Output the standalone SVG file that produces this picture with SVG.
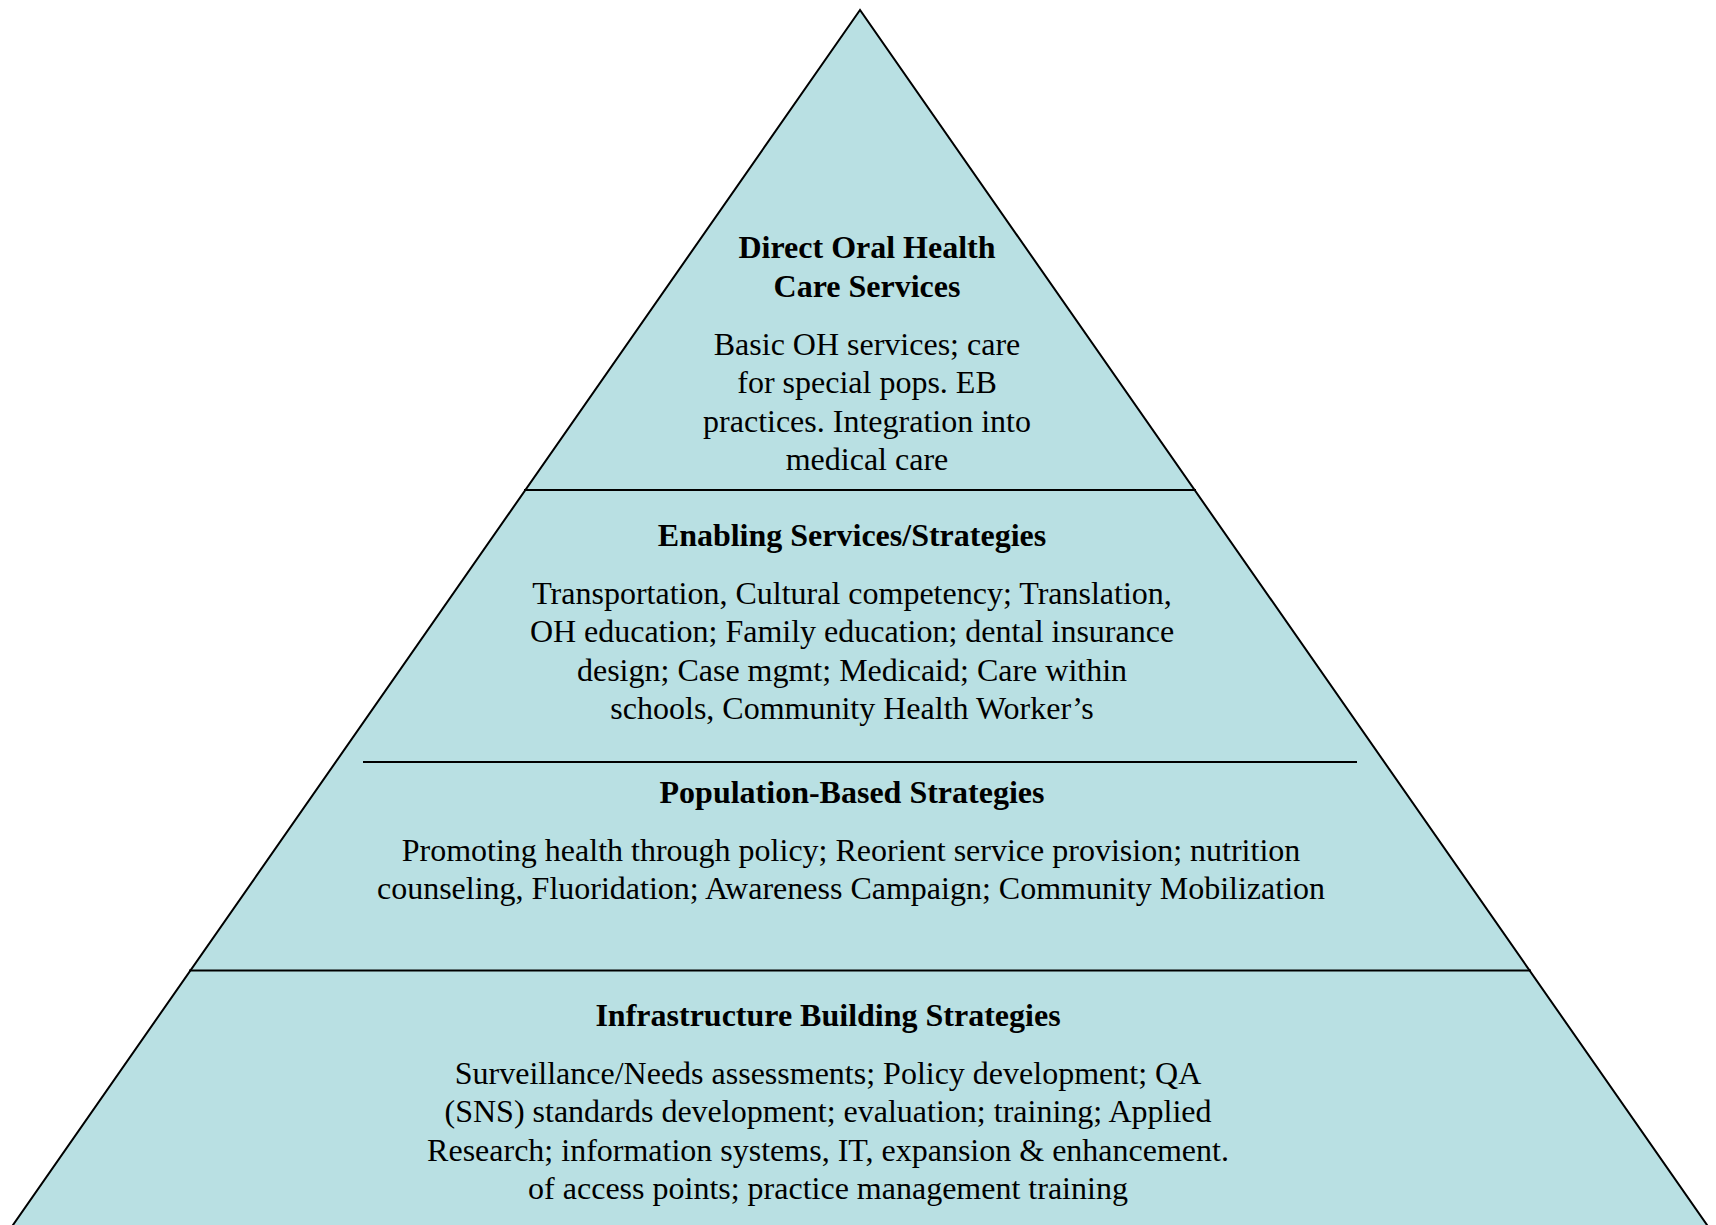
<svg xmlns="http://www.w3.org/2000/svg" width="1716" height="1225" viewBox="0 0 1716 1225">
<style>
.t{font-family:"Liberation Serif","Times New Roman",serif;font-size:32px;fill:#000;text-anchor:middle}
.b{font-weight:bold}
.div{stroke:#000;stroke-width:2;fill:none}
</style>
<rect width="1716" height="1225" fill="#fff"/>
<g id="pyramid">
<polygon points="860,10 6,1235 1714,1235" fill="#b9e0e3" stroke="#000" stroke-width="2"/>
</g>
<g id="connectors">
<line class="div" x1="524" y1="490" x2="1196" y2="490"/>
<line class="div" x1="363" y1="762" x2="1357" y2="762"/>
<line class="div" x1="189" y1="970.5" x2="1531" y2="970.5"/>
</g>
<g id="direct">
<text class="t b" x="867" y="258">Direct Oral Health</text>
<text class="t b" x="867" y="297">Care Services</text>
<text class="t" x="867" y="355">Basic OH services; care</text>
<text class="t" x="867" y="393">for special pops. EB</text>
<text class="t" x="867" y="432">practices. Integration into</text>
<text class="t" x="867" y="470">medical care</text>
</g>
<g id="enabling">
<text class="t b" x="852" y="546">Enabling Services/Strategies</text>
<text class="t" x="852" y="604">Transportation, Cultural competency; Translation,</text>
<text class="t" x="852" y="642">OH education; Family education; dental insurance</text>
<text class="t" x="852" y="681">design; Case mgmt; Medicaid; Care within</text>
<text class="t" x="852" y="719">schools, Community Health Worker’s</text>
</g>
<g id="population">
<text class="t b" x="852" y="803">Population-Based Strategies</text>
<text class="t" x="851" y="861">Promoting health through policy; Reorient service provision; nutrition</text>
<text class="t" x="851" y="899">counseling, Fluoridation; Awareness Campaign; Community Mobilization</text>
</g>
<g id="infrastructure">
<text class="t b" x="828" y="1026">Infrastructure Building Strategies</text>
<text class="t" x="828" y="1084">Surveillance/Needs assessments; Policy development; QA</text>
<text class="t" x="828" y="1122">(SNS) standards development; evaluation; training; Applied</text>
<text class="t" x="828" y="1161">Research; information systems, IT, expansion &amp; enhancement.</text>
<text class="t" x="828" y="1199">of access points; practice management training</text>
</g>
</svg>
